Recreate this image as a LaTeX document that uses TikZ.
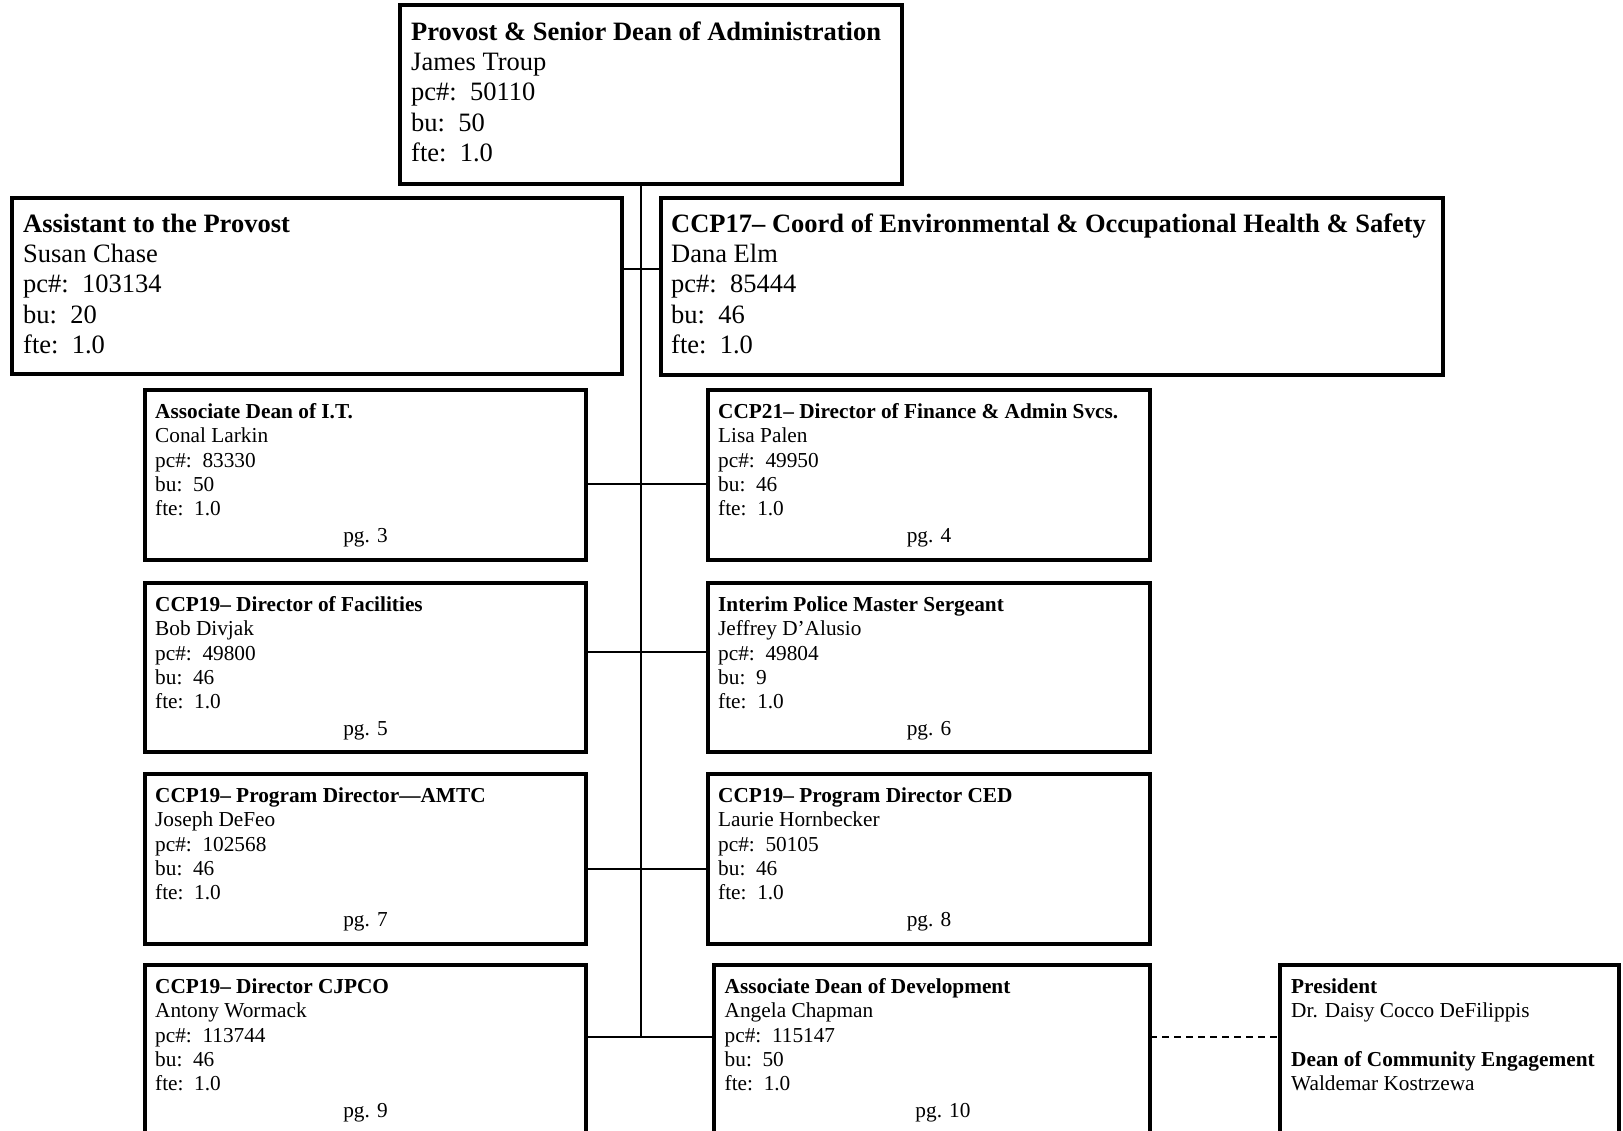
\documentclass[tikz,border=0pt]{standalone}
\usepackage{fontspec}
\setmainfont{Liberation Serif}
\newcommand\BoxBig{\fontsize{26.5}{30.3}\selectfont}
\newcommand\BoxSmall{\fontsize{21.3}{24.2}\selectfont}
\tikzset{
  box/.style={draw, rectangle, line width=3.2pt, inner sep=0pt, outer sep=0pt, anchor=north west},
  btxt/.style={anchor=north west, inner sep=0pt, align=left, font=\BoxBig},
  stxt/.style={anchor=north west, inner sep=0pt, align=left, font=\BoxSmall},
  pgtxt/.style={anchor=base, inner sep=0pt, font=\BoxSmall},
  conn/.style={line width=1.8pt},
  dconn/.style={line width=1.8pt, dash pattern=on 7pt off 5pt},
}
\begin{document}
\begin{tikzpicture}[x=1pt,y=-1pt]
\useasboundingbox (0,0) rectangle (1623,1131);
\clip (0,0) rectangle (1623,1131);
\fill[white] (0,0) rectangle (1623,1131);

% boxes
\node[box, minimum width=502pt, minimum height=179pt] (top) at (400,5) {};
\node[box, minimum width=610pt, minimum height=176pt] (asst) at (12,198) {};
\node[box, minimum width=782pt, minimum height=177pt] (ccp17) at (661,198) {};
\node[box, minimum width=441pt, minimum height=170pt] (it) at (145,390) {};
\node[box, minimum width=442pt, minimum height=170pt] (fin) at (708,390) {};
\node[box, minimum width=441pt, minimum height=169pt] (fac) at (145,583) {};
\node[box, minimum width=442pt, minimum height=169pt] (pol) at (708,583) {};
\node[box, minimum width=441pt, minimum height=170pt] (amtc) at (145,774) {};
\node[box, minimum width=442pt, minimum height=170pt] (ced) at (708,774) {};
\node[box, minimum width=441pt, minimum height=180pt] (cjp) at (145,965) {};
\node[box, minimum width=436pt, minimum height=180pt] (dev) at (714,965) {};
\node[box, minimum width=339pt, minimum height=180pt] (pres) at (1280,965) {};

% texts
\node[btxt] (topT) at ([shift={(11,15)}]top.north west) {\rule{0pt}{20pt}\textbf{Provost \& Senior Dean of Administration}\\James Troup\\pc\#:\ \ 50110\\bu:\ \ 50\\fte:\ \ 1.0};
\node[btxt] (asstT) at ([shift={(11,14)}]asst.north west) {\rule{0pt}{20pt}\textbf{Assistant to the Provost}\\Susan Chase\\pc\#:\ \ 103134\\bu:\ \ 20\\fte:\ \ 1.0};
\node[btxt] (ccp17T) at ([shift={(10,14)}]ccp17.north west) {\rule{0pt}{20pt}\textbf{CCP17– Coord of Environmental \& Occupational Health \& Safety}\\Dana Elm\\pc\#:\ \ 85444\\bu:\ \ 46\\fte:\ \ 1.0};

\node[stxt] (itT) at ([shift={(10,12.5)}]it.north west) {\rule{0pt}{16pt}\textbf{Associate Dean of I.T.}\\Conal Larkin\\pc\#:\ \ 83330\\bu:\ \ 50\\fte:\ \ 1.0};
\node[pgtxt] (itP) at ([shift={(0,152)}]it.north) {pg. 3};
\node[stxt] (finT) at ([shift={(10,12.5)}]fin.north west) {\rule{0pt}{16pt}\textbf{CCP21– Director of Finance \& Admin Svcs.}\\Lisa Palen\\pc\#:\ \ 49950\\bu:\ \ 46\\fte:\ \ 1.0};
\node[pgtxt] (finP) at ([shift={(0,152)}]fin.north) {pg. 4};

\node[stxt] (facT) at ([shift={(10,12.5)}]fac.north west) {\rule{0pt}{16pt}\textbf{CCP19– Director of Facilities}\\Bob Divjak\\pc\#:\ \ 49800\\bu:\ \ 46\\fte:\ \ 1.0};
\node[pgtxt] (facP) at ([shift={(0,152)}]fac.north) {pg. 5};
\node[stxt] (polT) at ([shift={(10,12.5)}]pol.north west) {\rule{0pt}{16pt}\textbf{Interim Police Master Sergeant}\\Jeffrey D’Alusio\\pc\#:\ \ 49804\\bu:\ \ 9\\fte:\ \ 1.0};
\node[pgtxt] (polP) at ([shift={(0,152)}]pol.north) {pg. 6};

\node[stxt] (amtcT) at ([shift={(10,12.5)}]amtc.north west) {\rule{0pt}{16pt}\textbf{CCP19– Program Director—AMTC}\\Joseph DeFeo\\pc\#:\ \ 102568\\bu:\ \ 46\\fte:\ \ 1.0};
\node[pgtxt] (amtcP) at ([shift={(0,152)}]amtc.north) {pg. 7};
\node[stxt] (cedT) at ([shift={(10,12.5)}]ced.north west) {\rule{0pt}{16pt}\textbf{CCP19– Program Director CED}\\Laurie Hornbecker\\pc\#:\ \ 50105\\bu:\ \ 46\\fte:\ \ 1.0};
\node[pgtxt] (cedP) at ([shift={(0,152)}]ced.north) {pg. 8};

\node[stxt] (cjpT) at ([shift={(10,12.5)}]cjp.north west) {\rule{0pt}{16pt}\textbf{CCP19– Director CJPCO}\\Antony Wormack\\pc\#:\ \ 113744\\bu:\ \ 46\\fte:\ \ 1.0};
\node[pgtxt] (cjpP) at ([shift={(0,152)}]cjp.north) {pg. 9};
\node[stxt] (devT) at ([shift={(10.5,12.5)}]dev.north west) {\rule{0pt}{16pt}\textbf{Associate Dean of Development}\\Angela Chapman\\pc\#:\ \ 115147\\bu:\ \ 50\\fte:\ \ 1.0};
\node[pgtxt] (devP) at ([shift={(11,152)}]dev.north) {pg. 10};

\node[stxt] (presT) at ([shift={(11,12.5)}]pres.north west) {\rule{0pt}{16pt}\textbf{President}\\Dr. Daisy Cocco DeFilippis\\[24.2pt]\textbf{Dean of Community Engagement}\\Waldemar Kostrzewa};

% junction coordinates
\coordinate (j0) at (641,269);
\coordinate (j1) at (641,484);
\coordinate (j2) at (641,652);
\coordinate (j3) at (641,869);
\coordinate (j4) at (641,1037);

% connectors
\draw[conn] (top.south -| j4) -- (j4);
\draw[conn] (asst.east |- j0) -- (ccp17.west |- j0);
\draw[conn] (it.east |- j1) -- (fin.west |- j1);
\draw[conn] (fac.east |- j2) -- (pol.west |- j2);
\draw[conn] (amtc.east |- j3) -- (ced.west |- j3);
\draw[conn] (cjp.east |- j4) -- (dev.west |- j4);
\draw[dconn] (dev.east |- j4) -- (pres.west |- j4);
\end{tikzpicture}
\end{document}
